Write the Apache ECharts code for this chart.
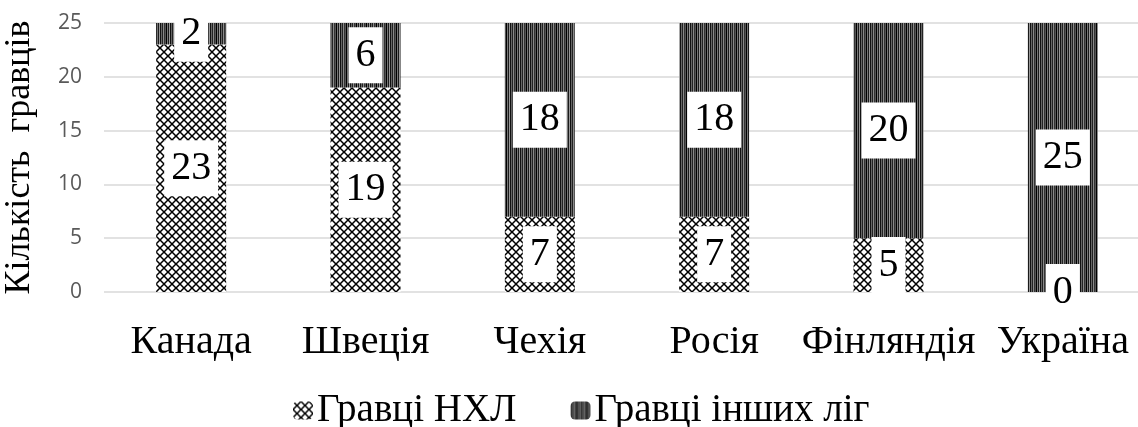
<!DOCTYPE html>
<html><head><meta charset="utf-8">
<script src="https://cdn.jsdelivr.net/npm/echarts@6/dist/echarts.min.js"></script>
<style>html,body{margin:0;padding:0;background:#fff}#c{width:1138px;height:427px}</style>
</head><body><div id="c"></div>
<script>
const categories = ['Канада','Швеція','Чехія','Росія','Фінляндія','Україна'];
const nhlPlayers = [23,19,7,7,5,0];
const otherPlayers = [2,6,18,18,20,25];
const seriesNames = ['Гравці НХЛ','Гравці інших ліг'];
const yTicks = [0,5,10,15,20,25];

function crossPattern(){
  const c=document.createElement('canvas');c.width=8;c.height=8;
  const g=c.getContext('2d');g.fillStyle='#fff';g.fillRect(0,0,8,8);
  g.strokeStyle='#000';g.lineWidth=1.5;
  g.beginPath();g.moveTo(-1,-1);g.lineTo(9,9);g.moveTo(9,-1);g.lineTo(-1,9);g.stroke();
  return c;
}
function stripePattern(){
  const cols=['#111','#666','#222','#8a8a8a','#333','#555','#000','#777','#1a1a1a','#999'];
  const c=document.createElement('canvas');c.width=cols.length;c.height=4;
  const g=c.getContext('2d');
  cols.forEach((col,i)=>{g.fillStyle=col;g.fillRect(i,0,1,4);});
  return c;
}
const labelStyle={show:true,position:'inside',fontFamily:'Liberation Serif',fontSize:40,color:'#000',
  backgroundColor:'#fff',padding:[8,7,6,7],lineHeight:42,formatter:p=>p.value};
const chart=echarts.init(document.getElementById('c'),null,{renderer:'canvas'});
chart.setOption({
  animation:false,
  grid:{left:104,width:1046,top:23,height:269,containLabel:false,outerBoundsMode:'none'},
  legend:{top:386,left:288,itemWidth:20,itemHeight:18,itemGap:54,
    textStyle:{fontFamily:'Liberation Serif',fontSize:39,color:'#000',padding:[0,0,0,-1]},
    data:seriesNames},
  xAxis:{type:'category',data:categories,axisLine:{show:false},axisTick:{show:false},
    axisLabel:{fontFamily:'Liberation Serif',fontSize:40,color:'#000',margin:30,interval:0}},
  yAxis:{type:'value',min:yTicks[0],max:yTicks[yTicks.length-1],interval:5,
    name:'Кількість  гравців',nameLocation:'middle',nameGap:66,
    nameTextStyle:{fontFamily:'Liberation Serif',fontSize:36,color:'#000'},
    axisLine:{show:false},axisTick:{show:false},
    axisLabel:{fontFamily:'Open Sans',fontSize:21,color:'#595959',margin:22},
    splitLine:{lineStyle:{color:'#d9d9d9',width:1.5}}},
  series:[
    {name:seriesNames[0],type:'bar',stack:'a',barWidth:70,data:nhlPlayers,
     itemStyle:{color:{image:crossPattern(),repeat:'repeat'}},label:labelStyle},
    {name:seriesNames[1],type:'bar',stack:'a',barWidth:70,data:otherPlayers,
     itemStyle:{color:{image:stripePattern(),repeat:'repeat'}},label:labelStyle}
  ]
});
</script></body></html>
